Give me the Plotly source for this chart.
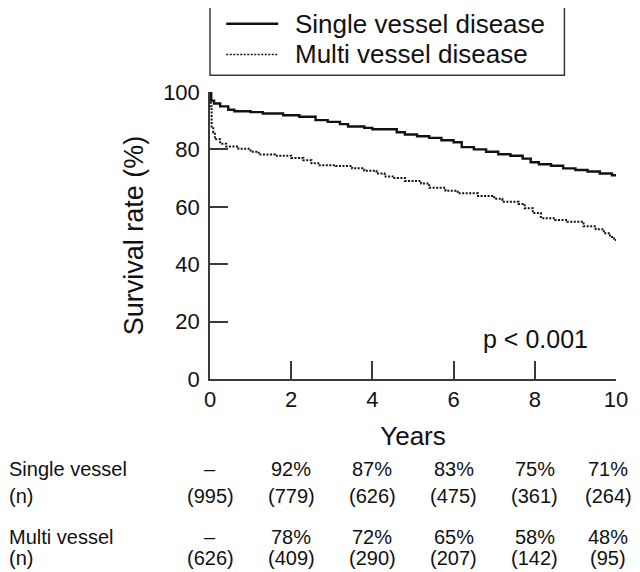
import plotly.graph_objects as go

FONT = "Liberation Sans, Arial, Helvetica, sans-serif"
INK = "#111111"
AXIS = "#3a3a3a"

# Kaplan-Meier steps (years, survival %)
single_t = [0, 0.03, 0.1, 0.25, 0.45, 0.6, 1.0, 1.3, 1.8, 2.2, 2.6, 2.9, 3.2, 3.4,
            3.8, 4.0, 4.6, 4.8, 5.1, 5.4, 5.7, 6.0, 6.2, 6.5, 6.8, 7.1, 7.4, 7.7,
            7.9, 8.1, 8.4, 8.7, 9.0, 9.3, 9.6, 9.9, 10.0]
single_s = [100, 97, 96, 95, 93.8, 93.3, 93, 92.5, 91.9, 91.4, 90.2, 89.6, 88.8, 88,
            87.5, 87, 86, 85.2, 84.6, 84, 83.2, 82.5, 80.8, 80, 79.2, 78.3, 77.8, 76.8,
            75.5, 74.8, 74.3, 73.4, 72.8, 72.3, 71.6, 71.0, 71.0]

multi_t = [0, 0.02, 0.04, 0.08, 0.12, 0.25, 0.4, 0.7, 1.0, 1.2, 1.6, 2.0, 2.3, 2.5,
           2.7, 3.1, 3.5, 3.8, 4.1, 4.3, 4.5, 4.8, 5.2, 5.4, 5.8, 6.1, 6.6, 7.0, 7.2,
           7.6, 7.75, 7.95, 8.15, 8.5, 8.8, 9.2, 9.5, 9.7, 9.85, 9.95, 10.0]
multi_s = [100, 95, 88, 86, 83.5, 82, 81, 80.2, 79.2, 78.2, 77.8, 77, 76.2, 75.2,
           74.5, 74.2, 73.4, 72.6, 71.6, 70.6, 70, 69, 68.1, 66.6, 65.6, 64.7, 63.8,
           62.8, 61.8, 61, 59.5, 57.8, 56, 55.4, 54.8, 53.2, 52.2, 50.8, 49.5, 48.4, 48.4]

# table under the x axis
table_years = [0, 2, 4, 6, 8, 10]
single_rate = ["–", "92%", "87%", "83%", "75%", "71%"]
single_n = ["(995)", "(779)", "(626)", "(475)", "(361)", "(264)"]
multi_rate = ["–", "78%", "72%", "65%", "58%", "48%"]
multi_n = ["(626)", "(409)", "(290)", "(207)", "(142)", "(95)"]
row_labels = ["Single vessel", "(n)", "Multi vessel", "(n)"]

fig = go.Figure()
fig.add_trace(go.Scatter(
    x=single_t, y=single_s, mode="lines", line_shape="hv", name="Single vessel disease",
    line=dict(color=INK, width=2.4), showlegend=False, cliponaxis=False,
))
fig.add_trace(go.Scatter(
    x=multi_t, y=multi_s, mode="lines", line_shape="hv", name="Multi vessel disease",
    line=dict(color=INK, width=2, dash="2px,1.5px"), showlegend=False, cliponaxis=False,
))

# the page body adds an 8px margin, so the figure is 8px smaller than the window
fig.update_layout(
    width=632, height=564,
    paper_bgcolor="white", plot_bgcolor="white",
    font=dict(family=FONT, color=INK, size=22),
    margin=dict(l=202, r=16, t=84, b=193),
    showlegend=False,
    xaxis=dict(range=[0, 10], tickvals=[0, 2, 4, 6, 8, 10], ticks="inside", ticklen=18,
               tickwidth=1.5, tickcolor=AXIS, showline=True, linecolor=AXIS, linewidth=1.5,
               showgrid=False, zeroline=False, tickfont=dict(size=22),
               title=dict(text="Years", font=dict(size=26), standoff=16)),
    yaxis=dict(range=[0, 100], tickvals=[0, 20, 40, 60, 80, 100], ticks="inside", ticklen=18,
               tickwidth=1.5, tickcolor=AXIS, showline=True, linecolor=AXIS, linewidth=1.5,
               showgrid=False, zeroline=False, tickfont=dict(size=22), ticklabelstandoff=4,
               title=dict(text="Survival rate (%)", font=dict(size=27), standoff=12)),
)

# p value
fig.add_annotation(x=9.36, y=14, xref="x", yref="y", text="p < 0.001", showarrow=False,
                   xanchor="right", yanchor="middle", font=dict(size=25))

# legend box drawn by hand to match the original key
fig.add_shape(type="rect", xref="paper", yref="paper", x0=0, x1=0.873, y0=1.058, y1=1.313,
              line=dict(color=AXIS, width=1.5))
legend_rows = [("Single vessel disease", "solid", 2.4, 1.238),
               ("Multi vessel disease", "2px,1.5px", 1.5, 1.131)]
for label, dash, width, yy in legend_rows:
    fig.add_shape(type="line", xref="paper", yref="paper", x0=0.040, x1=0.168, y0=yy, y1=yy,
                  line=dict(color=INK, width=width, dash=dash))
    fig.add_annotation(x=0.2056, y=yy, xref="paper", yref="paper", text=label,
                       showarrow=False, xanchor="left", yanchor="middle", font=dict(size=26))

# survival table
row_y = [-0.312, -0.409, -0.552, -0.625]
for lab, yy in zip(row_labels, row_y):
    fig.add_annotation(x=-0.50, y=yy, xref="paper", yref="paper", text=lab, showarrow=False,
                       xanchor="left", yanchor="middle", font=dict(size=20))
for vals, yy in zip([single_rate, single_n, multi_rate, multi_n], row_y):
    for t, v in zip(table_years, vals):
        # last column is pulled in slightly so it stays on the page, as in the original
        fig.add_annotation(x=t, y=yy, xref="x", yref="paper", text=v, showarrow=False,
                           xanchor="center", yanchor="middle", font=dict(size=20),
                           xshift=-8 if t == table_years[-1] else 0)

fig.write_html("out.html")
